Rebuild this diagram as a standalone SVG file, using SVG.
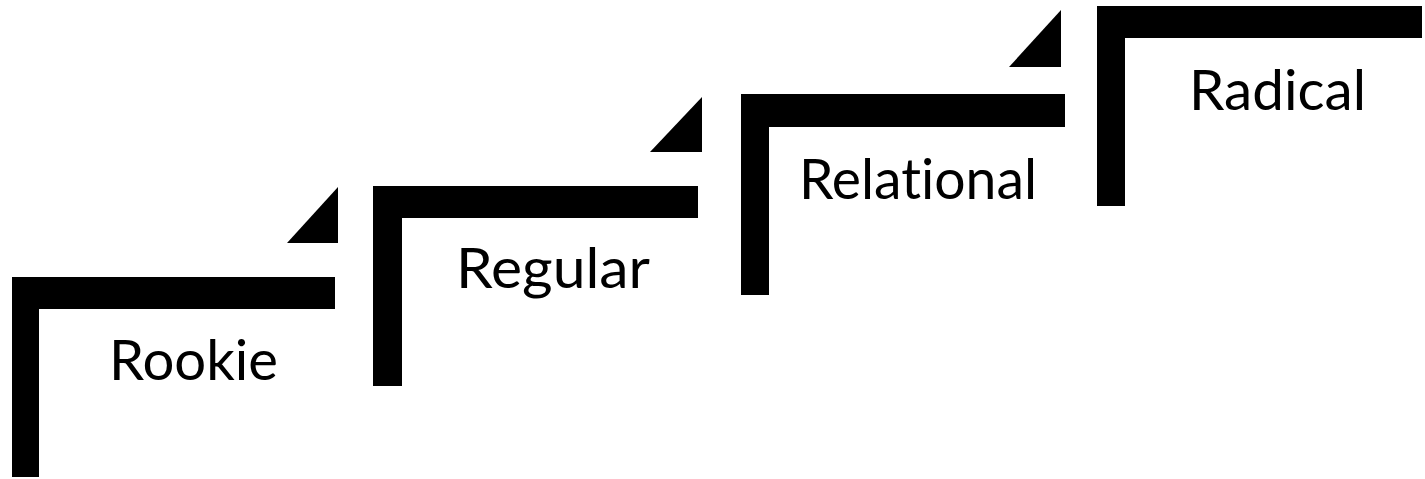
<svg xmlns="http://www.w3.org/2000/svg" width="1425" height="479" viewBox="0 0 1425 479">
<style>
.bar{fill:#000}
.lbl{font-family:Lato,"Noto Sans","DejaVu Sans",sans-serif;font-size:57px;fill:#000;font-weight:400;font-variant-ligatures:none}
</style>
<rect width="1425" height="479" fill="#fff"/>
<g id="rookie">
<path class="bar" d="M12,277 H335 V309 H39 V477 H12 Z"/>
<polygon class="bar" points="287,243 338,243 338,187"/>
<text class="lbl" x="109" y="380" textLength="169" lengthAdjust="spacingAndGlyphs">Rookie</text>
</g>
<g id="regular">
<path class="bar" d="M373,186 H698 V218 H402 V386 H373 Z"/>
<polygon class="bar" points="650,152 702,152 702,97"/>
<text class="lbl" x="456" y="288" textLength="194" lengthAdjust="spacingAndGlyphs">Regular</text>
</g>
<g id="relational">
<path class="bar" d="M741,94 H1065 V127 H769 V295 H741 Z"/>
<polygon class="bar" points="1009,67 1061,67 1061,10"/>
<text class="lbl" x="799" y="199" textLength="238" lengthAdjust="spacingAndGlyphs">Relational</text>
</g>
<g id="radical">
<path class="bar" d="M1097,6 H1422 V38 H1125 V206 H1097 Z"/>
<text class="lbl" x="1189" y="110" textLength="177" lengthAdjust="spacingAndGlyphs">Radical</text>
</g>
</svg>
